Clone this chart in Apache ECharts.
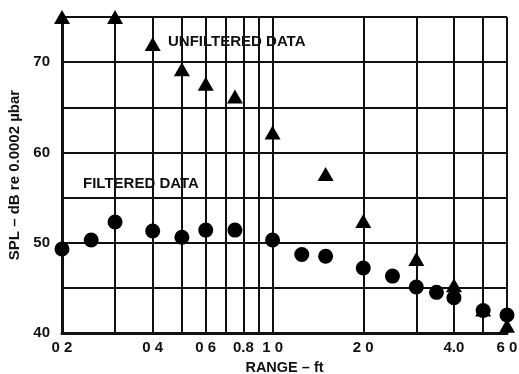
<!DOCTYPE html>
<html>
<head>
<meta charset="utf-8">
<script src="https://cdn.jsdelivr.net/npm/echarts@6/dist/echarts.min.js"></script>
<style>
  html, body { margin: 0; padding: 0; background: #fff; }
  #chart { width: 519px; height: 374px; }
</style>
</head>
<body>
<div id="chart"></div>
<script>
// range in ft, SPL in dB
var unfilteredRange = [0.2, 0.3, 0.4, 0.5, 0.6, 0.75, 1.0, 1.5, 2.0, 3.0, 4.0, 5.0, 6.0];
var unfilteredSpl   = [75, 75, 72, 69.2, 67.6, 66.2, 62.2, 57.6, 52.4, 48.2, 45.3, 42.6, 40.8];

var filteredRange = [0.2, 0.25, 0.3, 0.4, 0.5, 0.6, 0.75, 1.0, 1.25, 1.5, 2.0, 2.5, 3.0, 3.5, 4.0, 5.0, 6.0];
var filteredSpl   = [49.3, 50.3, 52.3, 51.3, 50.6, 51.4, 51.4, 50.3, 48.7, 48.5, 47.2, 46.3, 45.1, 44.5, 43.9, 42.5, 42.0];

var gridRange  = [0.2, 0.3, 0.4, 0.5, 0.6, 0.7, 0.8, 0.9, 1.0, 2.0, 3.0, 4.0, 5.0, 6.0];
var labelRange = [0.2, 0.4, 0.6, 0.8, 1.0, 2.0, 4.0, 6.0];
var labelText  = ['0 2', '0 4', '0 6', '0.8', '1 0', '2 0', '4.0', '6 0'];

var font = 'Liberation Sans';

function pairs(xs, ys) {
  return xs.map(function (x, i) { return [x, ys[i]]; });
}

var myChart = echarts.init(document.getElementById('chart'));

var option = {
  animation: false,
  backgroundColor: '#fff',
  grid: { left: 62, right: 12, top: 17, bottom: 41, outerBoundsMode: 'none', containLabel: false },
  xAxis: {
    type: 'log',
    logBase: 10,
    min: 0.2,
    max: 6,
    name: 'RANGE – ft',
    nameLocation: 'middle',
    nameGap: 27,
    nameTextStyle: { fontFamily: font, fontWeight: 'bold', fontSize: 14.5, color: '#111' },
    axisLine: { lineStyle: { color: '#111', width: 3 } },
    axisTick: { show: false, customValues: gridRange },
    splitLine: { show: true, lineStyle: { color: '#111', width: 2 } },
    axisLabel: {
      customValues: labelRange,
      margin: 7,
      fontFamily: font, fontWeight: 'bold', fontSize: 15, color: '#111',
      formatter: function (v) {
        for (var i = 0; i < labelRange.length; i++) {
          if (Math.abs(labelRange[i] - v) < 1e-6) return labelText[i];
        }
        return '';
      }
    }
  },
  yAxis: {
    type: 'value',
    min: 40,
    max: 75,
    interval: 5,
    name: 'SPL – dB re 0.0002 µbar',
    nameLocation: 'middle',
    nameGap: 40,
    nameRotate: 90,
    nameTextStyle: { fontFamily: font, fontWeight: 'bold', fontSize: 15, color: '#111' },
    axisLine: { show: true, lineStyle: { color: '#111', width: 3 } },
    axisTick: { show: false },
    splitLine: { show: true, lineStyle: { color: '#111', width: 2 } },
    axisLabel: {
      margin: 12,
      fontFamily: font, fontWeight: 'bold', fontSize: 15, color: '#111',
      formatter: function (v) { return v % 10 === 0 ? String(v) : ''; }
    }
  },
  graphic: [
    {
      type: 'text', left: 165, top: 33,
      style: {
        text: 'UNFILTERED DATA', fontFamily: font, fontWeight: 'bold', fontSize: 15,
        fill: '#111', backgroundColor: '#fff', padding: [1, 3]
      }
    },
    {
      type: 'text', left: 81, top: 175,
      style: {
        text: 'FILTERED DATA', fontFamily: font, fontWeight: 'bold', fontSize: 15,
        fill: '#111', backgroundColor: '#fff', padding: [1, 2]
      }
    }
  ],
  series: [
    {
      name: 'filtered',
      type: 'scatter',
      clip: false,
      symbol: 'circle',
      symbolSize: 15,
      itemStyle: { color: '#000', opacity: 1 },
      data: pairs(filteredRange, filteredSpl),
      z: 3
    },
    {
      name: 'unfiltered',
      type: 'scatter',
      clip: false,
      symbol: 'triangle',
      symbolSize: [16, 14],
      itemStyle: { color: '#000', opacity: 1 },
      data: pairs(unfilteredRange, unfilteredSpl),
      z: 4
    }
  ]
};

myChart.setOption(option);
</script>
</body>
</html>
